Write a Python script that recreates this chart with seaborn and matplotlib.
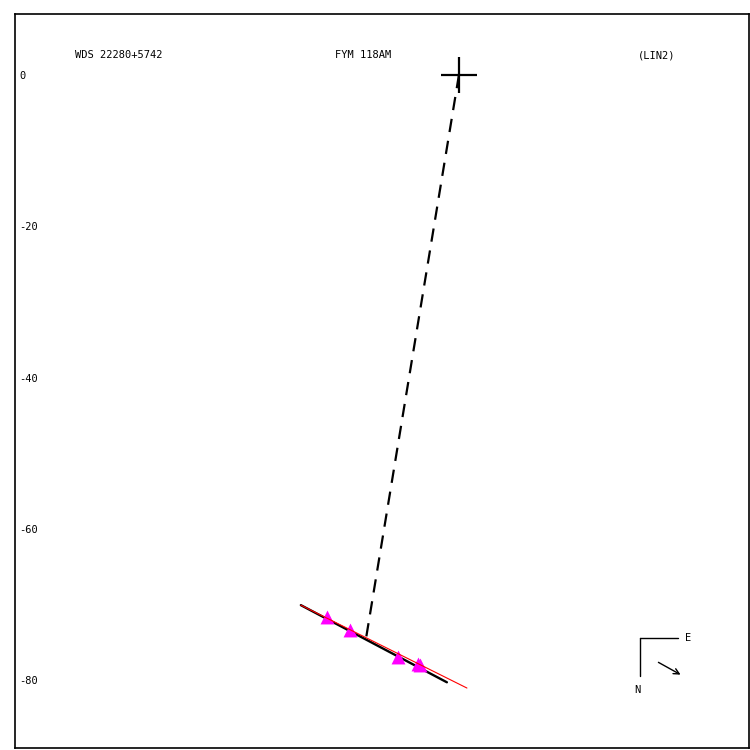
import matplotlib
matplotlib.use("Agg")
import matplotlib.pyplot as plt
import seaborn as sns
import pandas as pd

sns.set_theme(style="white")
plt.rcParams['font.family'] = ['DejaVu Sans Mono', 'DejaVu Sans']
plt.rcParams['axes.unicode_minus'] = False
plt.rcParams['text.color'] = 'black'

# Data (arcsec-like offsets from primary)
primary_x = [0.0]
primary_y = [0.0]
obs_x = [-17.45, -14.41, -8.07, -5.42, -5.16]
obs_y = [-71.67, -73.39, -76.96, -77.88, -78.02]
orbit_x = [-20.9, -1.59]
orbit_y = [-70.1, -80.3]
fit_x = [-20.9, 1.06]
fit_y = [-70.1, -81.06]
node_x = [0.0, -12.3]
node_y = [0.0, -74.6]
yticks = [0, -20, -40, -60, -80]
titles = ["WDS 22280+5742", "FYM 118AM", "(LIN2)"]

fig = plt.figure(figsize=(7.5, 7.5), dpi=100)
ax = fig.add_axes([15/750, 2/750, 734/750, 734/750])

sns.lineplot(x=node_x, y=node_y, ax=ax, color="black", lw=1.6, linestyle=(0, (6, 4)), sort=False)
sns.lineplot(x=orbit_x, y=orbit_y, ax=ax, color="black", lw=1.7, sort=False)
sns.lineplot(x=fit_x, y=fit_y, ax=ax, color="red", lw=0.8, sort=False)
ax.lines[-1].set_zorder(3)
sns.scatterplot(x=obs_x, y=obs_y, ax=ax, marker="^", color="#ff00ff", s=100, edgecolor="#ff00ff", linewidth=0, zorder=2.5)
ax.plot(primary_x, primary_y, marker="+", markersize=26, mew=1.6, color="black", linestyle="none")

ax.set_xlim(-58.7, 38.36)
ax.set_ylim(-88.99, 8.07)
ax.set_aspect("equal", adjustable="box")
ax.set_xticks([])
ax.set_yticks(yticks)
ax.set_yticklabels([str(v) for v in yticks])
ax.tick_params(axis="y", length=0, pad=-3, labelsize=7.5, colors="black")
for lab in ax.get_yticklabels():
    lab.set_horizontalalignment("left")
for s in ax.spines.values():
    s.set_color("black")
    s.set_linewidth(1.2)

# headers
fig.text(75/750, 1 - 55/750, titles[0], fontsize=7.5, ha="left", va="center", color="black")
fig.text(335/750, 1 - 55/750, titles[1], fontsize=7.5, ha="left", va="center", color="black")
fig.text(638/750, 1 - 55/750, titles[2], fontsize=7.5, ha="left", va="center", color="black")

# compass
def P(px, py):
    return (px/750, 1 - py/750)

fig.add_artist(plt.Line2D([640/750, 678/750], [1-638/750, 1-638/750], color="black", lw=1, transform=fig.transFigure))
fig.add_artist(plt.Line2D([640/750, 640/750], [1-638/750, 1-676/750], color="black", lw=1, transform=fig.transFigure))
fig.text(*P(688, 638), "E", fontsize=7.5, ha="center", va="center", color="black")
fig.text(*P(637, 690), "N", fontsize=7.5, ha="center", va="center", color="black")
ax.annotate("", xy=P(683, 676), xytext=P(656, 661), xycoords="figure fraction", textcoords="figure fraction",
            arrowprops=dict(arrowstyle="->", color="black", lw=1, mutation_scale=10))

fig.savefig("out.png", dpi=100)
